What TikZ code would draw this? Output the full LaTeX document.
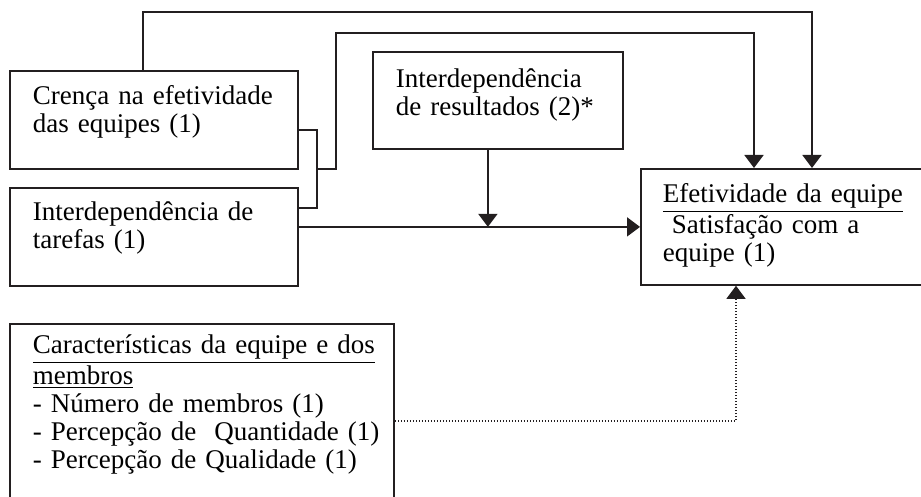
\documentclass[tikz,border=0pt]{standalone}
\usepackage{fontspec}
\setmainfont{Liberation Serif}
\usetikzlibrary{arrows.meta}
\definecolor{traco}{RGB}{35,31,32}
\tikzset{
  caixa/.style={
    draw=traco,
    line width=0.9pt,
    anchor=north west,
    align=left,
    inner xsep=11.5pt,
    inner ysep=0pt,
    font=\fontsize{13.5pt}{14pt}\selectfont
  },
  ligacao/.style={draw=traco, line width=0.9pt, line join=miter},
  seta/.style={ligacao, -{Triangle[length=6.5pt,width=9.5pt]}},
  pontilhado/.style={seta, line width=0.7pt, dash pattern=on 0.6pt off 0.9pt}
}

\begin{document}
\begin{tikzpicture}[x=0.5pt, y=-0.5pt]
  \useasboundingbox (0,0) rectangle (921,497);
  \clip (0,0) rectangle (921,497);

  % --- caixas (posicoes em pixels da figura) ---
  \node[caixa, text width=121pt, text height=17pt, text depth=32pt] (crenca) at (9,70)
    {Crença na efetividade\\das equipes (1)};
  \node[caixa, text width=121pt, text height=16.5pt, text depth=32.5pt] (tarefas) at (9,187)
    {Interdependência de\\tarefas (1)};
  \node[caixa, text width=102pt, text height=18pt, text depth=30.5pt] (resultados) at (372,51)
    {Interdependência\\de resultados (2)*};
  % caixa cortada pela borda direita
  \node[caixa, inner xsep=11pt, text width=150pt, text height=17pt, text depth=41pt] (efetividade) at (640,168)
    {\underline{Efetividade da equipe}\\\ Satisfação com a\\equipe (1)};
  % caixa cortada pela borda inferior
  \node[caixa, text width=169pt, text height=15pt, text depth=130pt] (caracteristicas) at (9,323)
    {\underline{Características da equipe e dos}\\\underline{membros}\\\mbox{- Número de membros (1)}\\
     \mbox{- Percepção de~\ Quantidade (1)}\\\mbox{- Percepção de Qualidade (1)}};

  % --- ligacoes ---
  \draw[seta] ([xshift=67pt]crenca.north west) -- ++(0,-58)
    -| ([xshift=86pt]efetividade.north west);
  \draw[ligacao] ([yshift=-5pt]crenca.east) -- ++(18,0) -- ++(0,39) coordinate (juncao)
    -- ++(0,39) -- ([yshift=14.5pt]tarefas.east);
  \draw[seta] (juncao) -- ++(19,0) -- ++(0,-136)
    -| ([xshift=57pt]efetividade.north west);

  \coordinate (linha) at ([yshift=5pt]tarefas.east);
  \draw[seta] (linha) -- (linha -| efetividade.west);
  \coordinate (desce) at ([xshift=-5pt]resultados.south);
  \draw[seta] (desce) -- (desce |- linha);

  \coordinate (saida) at ([yshift=-49pt]caracteristicas.north east);
  \draw[pontilhado] (saida) -| ([xshift=48pt]efetividade.south west);
\end{tikzpicture}
\end{document}
